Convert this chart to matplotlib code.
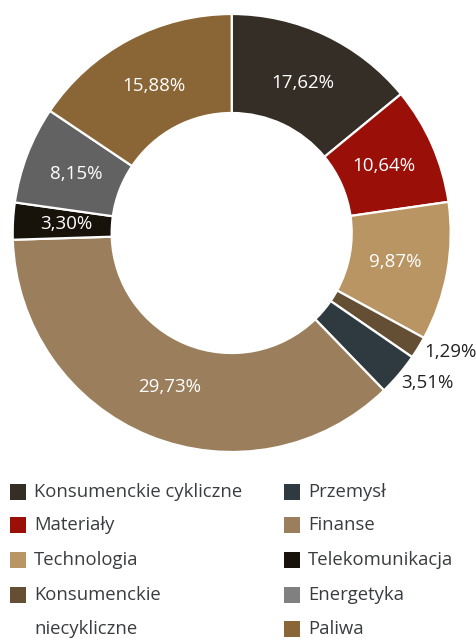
import matplotlib
matplotlib.use("Agg")
import matplotlib.pyplot as plt
import numpy as np
from matplotlib.patches import Rectangle

plt.rcParams['font.family'] = ['Open Sans', 'DejaVu Sans']

# Data (clockwise from 12 o'clock)
sectors = ["Konsumenckie cykliczne", "Materiały", "Technologia",
           "Konsumenckie niecykliczne", "Przemysł", "Finanse",
           "Telekomunikacja", "Energetyka", "Paliwa"]
# percentages printed on the chart
values = [17.62, 10.64, 9.87, 1.29, 3.51, 29.73, 3.30, 8.15, 15.88]
labels = ["17,62%", "10,64%", "9,87%", "1,29%", "3,51%", "29,73%", "3,30%", "8,15%", "15,88%"]
# wedge sizes as actually drawn in the picture
drawn_shares = [14.06, 8.67, 10.22, 1.64, 3.17, 36.75, 2.72, 7.19, 15.58]
colors = ["#352e26", "#9a1009", "#b99563", "#644f35", "#2e3a40",
          "#9b7f5c", "#17120a", "#626262", "#8a6636"]

legend_left = ["Konsumenckie cykliczne", "Materiały", "Technologia",
               "Konsumenckie\nniecykliczne"]
legend_left_colors = ["#352e26", "#9a1009", "#b99563", "#644f35"]
legend_right = ["Przemysł", "Finanse", "Telekomunikacja", "Energetyka", "Paliwa"]
legend_right_colors = ["#2e3a40", "#9b7f5c", "#17120a", "#808080", "#8a6636"]

W, H = 476, 639
fig = plt.figure(figsize=(W / 100, H / 100), dpi=100)

cx, cy, R = 231.7, 233.0, 219.0
ax = fig.add_axes([(cx - R) / W, (H - (cy + R)) / H, 2 * R / W, 2 * R / H])

width = 0.452
wedges, _ = ax.pie(drawn_shares, colors=colors, startangle=90, counterclock=False,
                   radius=1.0, wedgeprops=dict(width=width, edgecolor='white', linewidth=1.6))
ax.set_xlim(-1, 1)
ax.set_ylim(-1, 1)
ax.set_aspect('equal')
ax.axis('off')

# labels
total = sum(drawn_shares)
cum = 0.0
outside = {3: (0.878, -0.543), 4: (0.773, -0.685)}
for i, (v, lab) in enumerate(zip(drawn_shares, labels)):
    mid = 90 - (cum + v / 2) / total * 360
    cum += v
    if i in outside:
        x, y = outside[i]
        ax.text(x, y, lab, ha='left', va='center', fontsize=13.5, color='#222222')
    else:
        r = 0.758
        x, y = r * np.cos(np.radians(mid)), r * np.sin(np.radians(mid))
        ax.text(x, y, lab, ha='center', va='center', fontsize=13.5, color='white')

# legend drawn manually
row_y = [492, 525, 560, 595, 629]
col_x = [10, 284]
sq = 16


def draw_col(names, cols, x0):
    r = 0
    for name, col in zip(names, cols):
        yc = row_y[r]
        fig.patches.append(Rectangle((x0 / W, (H - yc - sq / 2) / H), sq / W, sq / H,
                                     transform=fig.transFigure, facecolor=col,
                                     edgecolor='none'))
        for ln in name.split("\n"):
            fig.text((x0 + 24) / W, (H - row_y[r]) / H, ln, ha='left', va='center',
                     fontsize=13.3, color='#3a3d40')
            r += 1


draw_col(legend_left, legend_left_colors, col_x[0])
draw_col(legend_right, legend_right_colors, col_x[1])

fig.savefig("out.png", dpi=100, facecolor='white')
